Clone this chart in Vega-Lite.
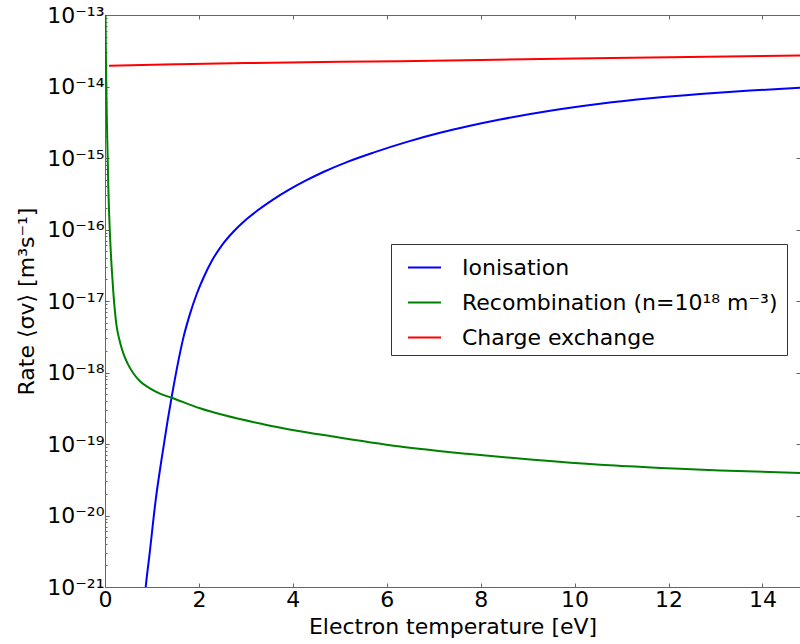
{
  "$schema": "https://vega.github.io/schema/vega-lite/v6.json",
  "autosize": "none",
  "width": 695,
  "height": 572,
  "padding": {"left": 105, "top": 15, "right": 0, "bottom": 57},
  "background": "white",
  "config": {
    "view": {"stroke": null},
    "font": "DejaVu Sans",
    "axis": {
      "domainColor": "#666",
      "tickColor": "#666",
      "labelFont": "DejaVu Sans",
      "labelFontSize": 22,
      "labelColor": "black",
      "labelFlush": false,
      "titleFont": "DejaVu Sans",
      "titleFontSize": 22,
      "titleFontWeight": "normal",
      "titleColor": "black",
      "grid": false
    }
  },
  "data": {
    "values": [
      {"T": 0.85, "rate": 7.6e-22, "process": "Ionisation"},
      {"T": 0.867, "rate": 1.0e-21, "process": "Ionisation"},
      {"T": 0.95, "rate": 2.92e-21, "process": "Ionisation"},
      {"T": 1.08, "rate": 1.66e-20, "process": "Ionisation"},
      {"T": 1.2, "rate": 5.85e-20, "process": "Ionisation"},
      {"T": 1.336, "rate": 2.17e-19, "process": "Ionisation"},
      {"T": 1.421, "rate": 4.59e-19, "process": "Ionisation"},
      {"T": 1.55, "rate": 1.32e-18, "process": "Ionisation"},
      {"T": 1.668, "rate": 3.05e-18, "process": "Ionisation"},
      {"T": 1.8, "rate": 6.3e-18, "process": "Ionisation"},
      {"T": 1.953, "rate": 1.253e-17, "process": "Ionisation"},
      {"T": 2.109, "rate": 2.2e-17, "process": "Ionisation"},
      {"T": 2.273, "rate": 3.62e-17, "process": "Ionisation"},
      {"T": 2.492, "rate": 6.05e-17, "process": "Ionisation"},
      {"T": 2.733, "rate": 9.31e-17, "process": "Ionisation"},
      {"T": 2.982, "rate": 1.34e-16, "process": "Ionisation"},
      {"T": 3.231, "rate": 1.81e-16, "process": "Ionisation"},
      {"T": 3.578, "rate": 2.62e-16, "process": "Ionisation"},
      {"T": 3.94, "rate": 3.66e-16, "process": "Ionisation"},
      {"T": 4.281, "rate": 4.85e-16, "process": "Ionisation"},
      {"T": 4.65, "rate": 6.37e-16, "process": "Ionisation"},
      {"T": 5.176, "rate": 8.91e-16, "process": "Ionisation"},
      {"T": 5.715, "rate": 1.19e-15, "process": "Ionisation"},
      {"T": 6.432, "rate": 1.68e-15, "process": "Ionisation"},
      {"T": 7.135, "rate": 2.25e-15, "process": "Ionisation"},
      {"T": 7.774, "rate": 2.82e-15, "process": "Ionisation"},
      {"T": 8.413, "rate": 3.45e-15, "process": "Ionisation"},
      {"T": 9.478, "rate": 4.58e-15, "process": "Ionisation"},
      {"T": 10.543, "rate": 5.73e-15, "process": "Ionisation"},
      {"T": 11.608, "rate": 6.84e-15, "process": "Ionisation"},
      {"T": 12.673, "rate": 7.85e-15, "process": "Ionisation"},
      {"T": 13.738, "rate": 8.78e-15, "process": "Ionisation"},
      {"T": 14.8, "rate": 9.59e-15, "process": "Ionisation"},

      {"T": 0.004, "rate": 3.16e-13, "process": "Recombination (n=10¹⁸ m⁻³)"},
      {"T": 0.01, "rate": 1.0e-13, "process": "Recombination (n=10¹⁸ m⁻³)"},
      {"T": 0.02, "rate": 2.51e-14, "process": "Recombination (n=10¹⁸ m⁻³)"},
      {"T": 0.035, "rate": 5.01e-15, "process": "Recombination (n=10¹⁸ m⁻³)"},
      {"T": 0.05, "rate": 1.58e-15, "process": "Recombination (n=10¹⁸ m⁻³)"},
      {"T": 0.07, "rate": 4.17e-16, "process": "Recombination (n=10¹⁸ m⁻³)"},
      {"T": 0.085, "rate": 1.86e-16, "process": "Recombination (n=10¹⁸ m⁻³)"},
      {"T": 0.106, "rate": 8.32e-17, "process": "Recombination (n=10¹⁸ m⁻³)"},
      {"T": 0.142, "rate": 2.95e-17, "process": "Recombination (n=10¹⁸ m⁻³)"},
      {"T": 0.177, "rate": 1.33e-17, "process": "Recombination (n=10¹⁸ m⁻³)"},
      {"T": 0.249, "rate": 4.37e-18, "process": "Recombination (n=10¹⁸ m⁻³)"},
      {"T": 0.3, "rate": 2.99e-18, "process": "Recombination (n=10¹⁸ m⁻³)"},
      {"T": 0.39, "rate": 1.85e-18, "process": "Recombination (n=10¹⁸ m⁻³)"},
      {"T": 0.48, "rate": 1.34e-18, "process": "Recombination (n=10¹⁸ m⁻³)"},
      {"T": 0.603, "rate": 9.75e-19, "process": "Recombination (n=10¹⁸ m⁻³)"},
      {"T": 0.745, "rate": 7.53e-19, "process": "Recombination (n=10¹⁸ m⁻³)"},
      {"T": 0.958, "rate": 6.01e-19, "process": "Recombination (n=10¹⁸ m⁻³)"},
      {"T": 1.17, "rate": 5.07e-19, "process": "Recombination (n=10¹⁸ m⁻³)"},
      {"T": 1.42, "rate": 4.44e-19, "process": "Recombination (n=10¹⁸ m⁻³)"},
      {"T": 2.023, "rate": 3.16e-19, "process": "Recombination (n=10¹⁸ m⁻³)"},
      {"T": 3.44, "rate": 1.85e-19, "process": "Recombination (n=10¹⁸ m⁻³)"},
      {"T": 4.863, "rate": 1.27e-19, "process": "Recombination (n=10¹⁸ m⁻³)"},
      {"T": 6.283, "rate": 9.2e-20, "process": "Recombination (n=10¹⁸ m⁻³)"},
      {"T": 7.704, "rate": 7.28e-20, "process": "Recombination (n=10¹⁸ m⁻³)"},
      {"T": 9.122, "rate": 6.0e-20, "process": "Recombination (n=10¹⁸ m⁻³)"},
      {"T": 10.543, "rate": 5.11e-20, "process": "Recombination (n=10¹⁸ m⁻³)"},
      {"T": 11.964, "rate": 4.59e-20, "process": "Recombination (n=10¹⁸ m⁻³)"},
      {"T": 13.1, "rate": 4.25e-20, "process": "Recombination (n=10¹⁸ m⁻³)"},
      {"T": 14.8, "rate": 3.94e-20, "process": "Recombination (n=10¹⁸ m⁻³)"},

      {"T": 0.085, "rate": 1.95e-14, "process": "Charge exchange"},
      {"T": 1.5, "rate": 2.04e-14, "process": "Charge exchange"},
      {"T": 3.0, "rate": 2.13e-14, "process": "Charge exchange"},
      {"T": 6.28, "rate": 2.26e-14, "process": "Charge exchange"},
      {"T": 10.0, "rate": 2.47e-14, "process": "Charge exchange"},
      {"T": 14.8, "rate": 2.72e-14, "process": "Charge exchange"}
    ]
  },
  "layer": [
    {
      "mark": {"type": "line", "strokeWidth": 2, "clip": true, "interpolate": "monotone"},
      "encoding": {
        "x": {
          "field": "T", "type": "quantitative",
          "scale": {"domain": [0, 14.8], "nice": false, "zero": false},
          "axis": {
            "orient": "bottom",
            "values": [0, 2, 4, 6, 8, 10, 12, 14],
            "tickSize": -4,
            "labelPadding": 6,
            "title": "Electron temperature [eV]",
            "titlePadding": 6
          }
        },
        "y": {
          "field": "rate", "type": "quantitative",
          "scale": {"type": "log", "domain": [1e-21, 1e-13], "nice": false},
          "axis": {
            "orient": "left",
            "values": [1e-21, 2e-21, 3e-21, 4e-21, 5e-21, 6e-21, 7e-21, 8e-21, 9e-21,
                       1e-20, 2e-20, 3e-20, 4e-20, 5e-20, 6e-20, 7e-20, 8e-20, 9e-20,
                       1e-19, 2e-19, 3e-19, 4e-19, 5e-19, 6e-19, 7e-19, 8e-19, 9e-19,
                       1e-18, 2e-18, 3e-18, 4e-18, 5e-18, 6e-18, 7e-18, 8e-18, 9e-18,
                       1e-17, 2e-17, 3e-17, 4e-17, 5e-17, 6e-17, 7e-17, 8e-17, 9e-17,
                       1e-16, 2e-16, 3e-16, 4e-16, 5e-16, 6e-16, 7e-16, 8e-16, 9e-16,
                       1e-15, 2e-15, 3e-15, 4e-15, 5e-15, 6e-15, 7e-15, 8e-15, 9e-15,
                       1e-14, 2e-14, 3e-14, 4e-14, 5e-14, 6e-14, 7e-14, 8e-14, 9e-14,
                       1e-13],
            "tickSize": {
              "condition": {"test": "abs(log(datum.value)/LN10 - round(log(datum.value)/LN10)) > 0.001", "value": -2},
              "value": -4
            },
            "labelExpr": "abs(log(datum.value)/LN10 - round(log(datum.value)/LN10)) < 0.001 ? '10⁻' + substring('⁰¹²³⁴⁵⁶⁷⁸⁹', floor(-round(log(datum.value)/LN10)/10), floor(-round(log(datum.value)/LN10)/10)+1) + substring('⁰¹²³⁴⁵⁶⁷⁸⁹', (-round(log(datum.value)/LN10))%10, (-round(log(datum.value)/LN10))%10+1) : ''",
            "labelPadding": 5,
            "labelOverlap": false,
            "title": "Rate ⟨σv⟩ [m³s⁻¹]",
            "titlePadding": 8
          }
        },
        "color": {
          "field": "process", "type": "nominal",
          "sort": null,
          "scale": {
            "domain": ["Ionisation", "Recombination (n=10¹⁸ m⁻³)", "Charge exchange"],
            "range": ["#0000ff", "#008000", "#ff0000"]
          },
          "legend": {
            "orient": "none",
            "legendX": 286,
            "legendY": 229,
            "title": " ",
            "titleOrient": "right",
            "titlePadding": 4,
            "titleFontSize": 22,
            "symbolType": "stroke",
            "symbolSize": 1089,
            "symbolStrokeWidth": 2,
            "symbolOffset": 10,
            "labelFont": "DejaVu Sans",
            "labelFontSize": 22,
            "labelColor": "black",
            "labelOffset": 20,
            "labelLimit": 600,
            "rowPadding": 6,
            "padding": 6,
            "strokeColor": "#333",
            "fillColor": "white",
            "cornerRadius": 0
          }
        }
      }
    },
    {
      "mark": {"type": "line", "opacity": 0, "clip": true},
      "encoding": {
        "x": {
          "field": "T", "type": "quantitative",
          "scale": {"domain": [0, 14.8], "nice": false, "zero": false},
          "axis": {"orient": "top", "values": [0, 2, 4, 6, 8, 10, 12, 14], "tickSize": -4, "labels": false, "title": null}
        },
        "y": {
          "field": "rate", "type": "quantitative",
          "scale": {"type": "log", "domain": [1e-21, 1e-13], "nice": false},
          "axis": {"orient": "right", "values": [1e-21, 1e-20, 1e-19, 1e-18, 1e-17, 1e-16, 1e-15, 1e-14, 1e-13], "tickSize": -4, "labels": false, "title": null}
        },
        "detail": {"field": "process", "type": "nominal"}
      }
    }
  ],
  "resolve": {"axis": {"x": "independent", "y": "independent"}}
}
